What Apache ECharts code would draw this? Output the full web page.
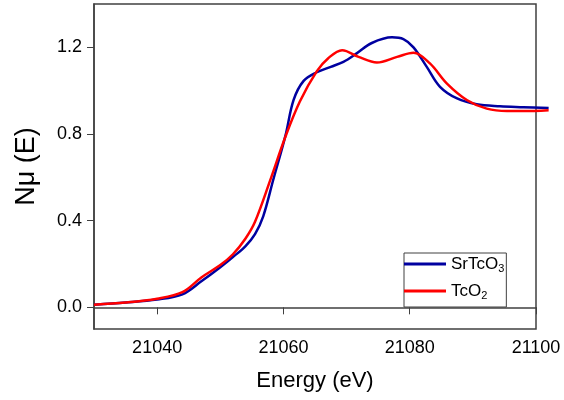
<!DOCTYPE html>
<html>
<head>
<meta charset="utf-8">
<script src="https://cdn.jsdelivr.net/npm/echarts@6/dist/echarts.min.js"></script>
<style>
  html, body { margin: 0; padding: 0; background: #fff; }
  #chart { width: 564px; height: 400px; }
</style>
</head>
<body>
<div id="chart"></div>
<script>
// SrTcO3 (blue)
const srEnergy = [21030, 21035, 21040, 21044, 21047, 21050, 21052, 21054, 21055.5, 21056.8, 21058.4, 21060.3, 21061.6, 21063.2, 21065.3, 21067.5, 21069.5, 21071.6, 21074, 21077.2, 21079, 21080.6, 21082.7, 21084.8, 21087.5, 21090.6, 21094.3, 21098, 21102]
const srValues = [0.012, 0.022, 0.036, 0.06, 0.12, 0.185, 0.232, 0.283, 0.338, 0.42, 0.59, 0.79, 0.956, 1.045, 1.085, 1.11, 1.133, 1.172, 1.22, 1.246, 1.238, 1.2, 1.11, 1.018, 0.964, 0.937, 0.928, 0.924, 0.92]

// TcO2 (red)
const tcEnergy = [21030, 21035, 21040, 21044, 21047, 21050, 21052, 21054, 21055.5, 21057.9, 21060.3, 21062.6, 21065.3, 21067.1, 21069.3, 21071.9, 21074.8, 21078, 21080.6, 21083.2, 21085.9, 21089.1, 21092.2, 21095.4, 21098, 21102]
const tcValues = [0.012, 0.022, 0.04, 0.07, 0.138, 0.195, 0.245, 0.318, 0.395, 0.586, 0.786, 0.95, 1.09, 1.15, 1.187, 1.156, 1.13, 1.156, 1.175, 1.126, 1.033, 0.956, 0.917, 0.906, 0.906, 0.91]

const xTicks = [21040, 21060, 21080, 21100]
const yTicks = [0, 0.4, 0.8, 1.2]

const xMin = 21030
const xMax = 21100
const yMin = -0.1
const yMax = 1.4

// plot frame in px, the curves run a little past the right edge
const frameLeft = 94
const frameRight = 28
const overrun = 13
const frameWidth = 564 - frameLeft - frameRight
const xMaxCurves = xMax + (xMax - xMin) * overrun / frameWidth

const pairs = (xs, ys) => xs.map((x, i) => [x, ys[i]])

const chart = echarts.init(document.getElementById('chart'))
const font = 'Liberation Sans, Arial, sans-serif'

chart.setOption({
  animation: false,
  grid: [
    {
      left: frameLeft, right: frameRight, top: 4, bottom: 71,
      show: true, borderColor: '#404040', borderWidth: 1.5
    },
    { left: frameLeft, right: frameRight - overrun, top: 4, bottom: 71 }
  ],
  legend: {
    orient: 'vertical',
    left: 404, top: 253,
    padding: [1, 2, 6, 0],
    borderColor: '#404040', borderWidth: 1,
    icon: 'rect', itemWidth: 42, itemHeight: 3, itemGap: 7,
    data: ['SrTcO3', 'TcO2'],
    formatter: name => name === 'SrTcO3' ? 'SrTcO{sub|3}' : 'TcO{sub|2}',
    textStyle: {
      fontFamily: font, fontSize: 17, color: '#000', lineHeight: 20,
      rich: { sub: { fontSize: 11, fontFamily: font, color: '#000', verticalAlign: 'bottom', padding: [8, 0, 0, 0] } }
    }
  },
  xAxis: [
    {
      type: 'value', gridIndex: 0, min: xMin, max: xMax,
      name: 'Energy (eV)', nameLocation: 'middle', nameGap: 41,
      nameTextStyle: { fontFamily: font, fontSize: 22, color: '#000' },
      axisLine: { lineStyle: { color: '#404040', width: 1.5 } },
      axisTick: { customValues: xTicks, length: 7, lineStyle: { color: '#404040' } },
      axisLabel: { customValues: xTicks, margin: 10, fontFamily: font, fontSize: 18, color: '#000', formatter: v => String(v) },
      splitLine: { show: false }
    },
    {
      type: 'value', gridIndex: 1, min: xMin, max: xMaxCurves, show: false
    }
  ],
  yAxis: [
    {
      type: 'value', gridIndex: 0, min: yMin, max: yMax,
      name: 'Nμ (E)', nameLocation: 'middle', nameGap: 54,
      nameTextStyle: { fontFamily: font, fontSize: 27, color: '#000' },
      axisLine: { lineStyle: { color: '#404040', width: 1.5 } },
      axisTick: { customValues: yTicks, length: 7, lineStyle: { color: '#404040' } },
      axisLabel: { customValues: yTicks, margin: 12, fontFamily: font, fontSize: 18, color: '#000', formatter: v => v.toFixed(1) },
      splitLine: { show: false }
    },
    {
      type: 'value', gridIndex: 1, min: yMin, max: yMax, show: false
    }
  ],
  series: [
    {
      name: 'SrTcO3', type: 'line', xAxisIndex: 1, yAxisIndex: 1,
      smooth: 0.35, showSymbol: false,
      lineStyle: { color: '#0000a0', width: 2.5 }, itemStyle: { color: '#0000a0' },
      data: pairs(srEnergy, srValues)
    },
    {
      name: 'TcO2', type: 'line', xAxisIndex: 1, yAxisIndex: 1,
      smooth: 0.35, showSymbol: false,
      lineStyle: { color: '#ff0000', width: 2.5 }, itemStyle: { color: '#ff0000' },
      data: pairs(tcEnergy, tcValues)
    }
  ]
})
</script>
</body>
</html>
